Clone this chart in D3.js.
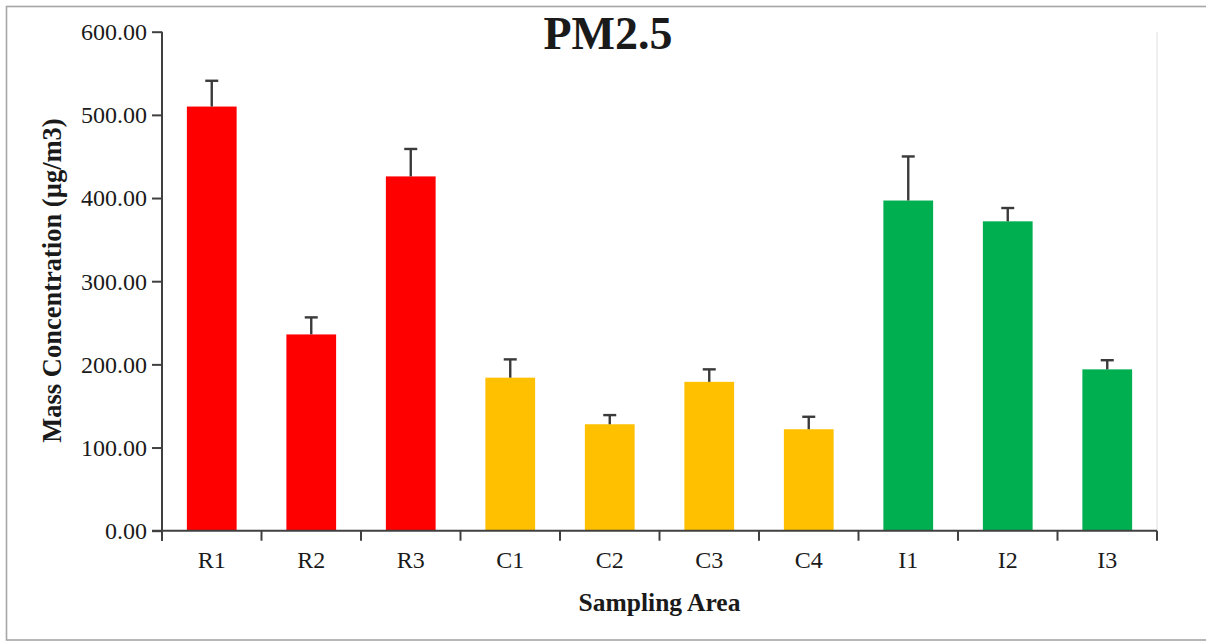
<!DOCTYPE html>
<html>
<head>
<meta charset="utf-8">
<script src="https://cdn.jsdelivr.net/npm/d3@7/dist/d3.min.js"></script>
<style>
  html, body { margin: 0; padding: 0; background: #fff; }
  svg { display: block; }
  text { font-family: "Liberation Serif", "Times New Roman", serif; fill: #1a1a1a; }
</style>
</head>
<body>
<svg id="chart" width="1206" height="642"></svg>
<script>
// PM2.5 mass concentration by sampling area (mean and upper error)
const categories = ["R1", "R2", "R3", "C1", "C2", "C3", "C4", "I1", "I2", "I3"];
const means      = [510, 236, 426, 184, 128, 179, 122, 397, 372, 194];
const errors     = [31, 20.5, 33, 22, 11, 15, 15, 53, 16, 11];
const groups     = ["R", "R", "R", "C", "C", "C", "C", "I", "I", "I"];
const groupNames = ["R", "C", "I"];
const groupColors = ["#FF0000", "#FFC000", "#00B050"];
const yTicks     = [0, 100, 200, 300, 400, 500, 600];

const svg = d3.select("#chart");
const plotLeft = 162, plotRight = 1157, plotTop = 31.7, plotBottom = 530.7;

// outer frame
svg.append("rect")
  .attr("x", 6.5).attr("y", 6.5).attr("width", 1210).attr("height", 633.5)
  .attr("fill", "none").attr("stroke", "#a6a6a6").attr("stroke-width", 1.6);

const x = d3.scaleBand().domain(categories).range([plotLeft, plotRight]).paddingInner(0.5).paddingOuter(0.25);
const y = d3.scaleLinear().domain([0, 600]).range([plotBottom, plotTop]);
const color = d3.scaleOrdinal().domain(groupNames).range(groupColors);

// plot area right edge
svg.append("line")
  .attr("x1", plotRight).attr("x2", plotRight).attr("y1", plotTop).attr("y2", plotBottom)
  .attr("stroke", "#ebebeb").attr("stroke-width", 1.5);

// bars
svg.append("g").selectAll("rect").data(categories).join("rect")
  .attr("x", d => x(d))
  .attr("width", x.bandwidth())
  .attr("y", (d, i) => y(means[i]))
  .attr("height", (d, i) => y(0) - y(means[i]))
  .attr("fill", (d, i) => color(groups[i]));

// error bars (upper only)
const eb = svg.append("g").attr("stroke", "#3a3a3a").attr("stroke-width", 2.4);
categories.forEach((c, i) => {
  const cx = x(c) + x.bandwidth() / 2;
  eb.append("line").attr("x1", cx).attr("x2", cx)
    .attr("y1", y(means[i])).attr("y2", y(means[i] + errors[i]));
  eb.append("line").attr("x1", cx - 6.5).attr("x2", cx + 6.5)
    .attr("y1", y(means[i] + errors[i])).attr("y2", y(means[i] + errors[i]));
});

// y axis
const yAxis = svg.append("g").attr("transform", `translate(${plotLeft},0)`)
  .call(d3.axisLeft(y).tickValues(yTicks).tickFormat(d3.format(".2f")).tickSize(10).tickPadding(5));
yAxis.select(".domain").attr("stroke", "#404040").attr("stroke-width", 2).attr("d", `M0,${plotTop}V${plotBottom + 10}`);
yAxis.selectAll(".tick line").attr("stroke", "#404040").attr("stroke-width", 2);
yAxis.selectAll(".tick text").attr("font-size", 24).attr("dy", "0.33em")
  .style("font-family", "'Liberation Serif', 'Times New Roman', serif").attr("fill", "#1a1a1a");

// x axis: ticks at category boundaries
const xAxis = svg.append("g").attr("transform", `translate(0,${plotBottom})`);
xAxis.append("line").attr("x1", plotLeft - 10).attr("x2", plotRight).attr("y1", 0).attr("y2", 0)
  .attr("stroke", "#404040").attr("stroke-width", 2);
const step = x.step();
d3.range(categories.length + 1).forEach(k => {
  const tx = plotLeft + k * step;
  xAxis.append("line").attr("x1", tx).attr("x2", tx).attr("y1", 0).attr("y2", 10)
    .attr("stroke", "#404040").attr("stroke-width", 2);
});
xAxis.selectAll("text.cat").data(categories).join("text")
  .attr("class", "cat")
  .attr("x", d => x(d) + x.bandwidth() / 2)
  .attr("y", 37.5)
  .attr("text-anchor", "middle")
  .attr("font-size", 24)
  .text(d => d);

// titles
svg.append("text").attr("x", 608).attr("y", 49).attr("text-anchor", "middle")
  .attr("font-size", 46).attr("font-weight", "bold").attr("fill", "#000").text("PM2.5");

svg.append("text").attr("x", (plotLeft + plotRight) / 2).attr("y", 611).attr("text-anchor", "middle")
  .attr("font-size", 25.5).attr("font-weight", "bold").text("Sampling Area");

svg.append("text")
  .attr("transform", `translate(61,${(118 + 443) / 2}) rotate(-90)`)
  .attr("text-anchor", "middle")
  .attr("font-size", 26.5).attr("font-weight", "bold")
  .text("Mass Concentration (µg/m3)");
</script>
</body>
</html>
